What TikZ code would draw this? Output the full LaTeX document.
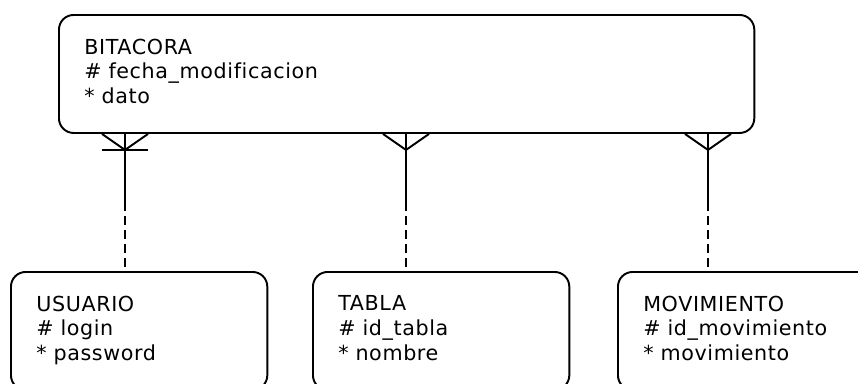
\documentclass[tikz,border=0pt]{standalone}
\usepackage{fontspec}
\newfontfamily\entfont[LetterSpace=3, Ligatures=NoCommon]{DejaVu Sans}
\usepackage{tikz}
\usetikzlibrary{calc,positioning}

\begin{document}
\begin{tikzpicture}[x=0.75pt, y=-0.75pt,
    entity/.style={draw, line width=1.45pt, rounded corners=11pt, anchor=north west,
      align=left, inner xsep=19pt, inner ysep=0pt, minimum height=88.5pt,
      text depth=41.3pt, font=\entfont\fontsize{15.5}{18.4}\selectfont},
    rel/.style={line width=1.45pt},
    opt/.style={rel, dash pattern=on 6.75pt off 3.75pt}]
  % picture frame
  \clip (0,0) rectangle (858,383);

  % Entities
  \node[entity, text width=483.5pt] (bitacora) at (58,14)
    {BITACORA\\\# fecha\_modificacion\\{*} dato};
  \node[entity, text width=154.25pt] (usuario) at (10,271)
    {USUARIO\\\# login\\{*} password};
  \node[entity, text width=154.25pt] (tabla) at (312,271)
    {TABLA\\\# id\_tabla\\{*} nombre};
  \node[entity, text width=154.25pt] (movimiento) at (617,271)
    {MOVIMIENTO\\\# id\_movimiento\\{*} movimiento};

  % Relationships: crow's foot on BITACORA, dashed half on the other side
  \foreach \n/\dx in {usuario/67, tabla/348, movimiento/650} {
    \coordinate (fk-\n) at ($(bitacora.south west)+(\dx,0)$);
    \coordinate (tip-\n) at ($(fk-\n)+(0,16)$);
    \coordinate (mid-\n) at ($(fk-\n)!0.5!(fk-\n |- \n.north)$);
    \draw[rel] (fk-\n) -- (mid-\n);
    \draw[opt] (mid-\n) -- (fk-\n |- \n.north);
    \draw[rel] ($(fk-\n)+(-23,0)$) -- (tip-\n) -- ($(fk-\n)+(23,0)$);
  }

  % USUARIO side is mandatory
  \draw[rel] ($(tip-usuario)+(-23,0)$) -- ($(tip-usuario)+(23,0)$);

\end{tikzpicture}
\end{document}
